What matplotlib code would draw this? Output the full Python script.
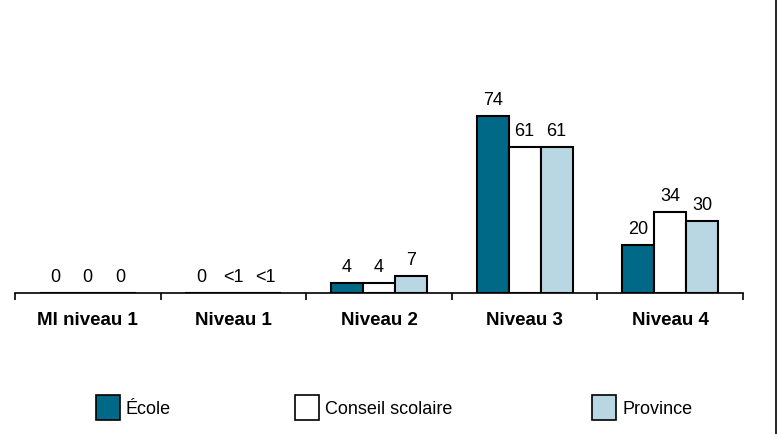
import matplotlib
matplotlib.use("Agg")
import matplotlib.pyplot as plt
import numpy as np
from matplotlib.patches import Rectangle
from matplotlib.lines import Line2D

plt.rcParams['font.family'] = ['Liberation Sans', 'DejaVu Sans']

categories = ["MI niveau 1", "Niveau 1", "Niveau 2", "Niveau 3", "Niveau 4"]
series = ["École", "Conseil scolaire", "Province"]
ecole = [0, 0, 4, 74, 20]
conseil = [0, 0, 4, 61, 34]
province = [0, 0, 7, 61, 30]
ecole_labels = ["0", "0", "4", "74", "20"]
conseil_labels = ["0", "<1", "4", "61", "34"]
province_labels = ["0", "<1", "7", "61", "30"]

colors = ["#006987", "#ffffff", "#b9d7e3"]
values = [ecole, conseil, province]
labels = [ecole_labels, conseil_labels, province_labels]

W, H = 778, 434
fig = plt.figure(figsize=(W / 100, H / 100), dpi=100)
ax = fig.add_axes([15 / W, 1 - 293 / H, (743 - 15) / W, (293 - 54) / H])

x = np.arange(len(categories))
bw = 0.22
for i in range(3):
    bars = ax.bar(x + (i - 1) * bw, values[i], bw, color=colors[i],
                  edgecolor="black", linewidth=1.5, zorder=3)
    ax.bar_label(bars, labels=labels[i], padding=5, fontsize=13)

ax.set_xlim(-0.5, len(categories) - 0.5)
ax.set_ylim(0, 100)
for s in ["top", "right", "left"]:
    ax.spines[s].set_visible(False)
ax.spines["bottom"].set_linewidth(1.2)
ax.spines["bottom"].set_zorder(4)
ax.set_yticks([])
ax.set_xticks(np.arange(len(categories) + 1) - 0.5)
ax.set_xticklabels([])
ax.tick_params(axis="x", which="major", length=5, width=1.2, direction="out")
ax.set_xticks(x, minor=True)
ax.set_xticklabels(categories, minor=True, fontsize=13.5, fontweight="bold")
ax.tick_params(axis="x", which="minor", length=0, pad=14)

# legend
leg_x = [96, 295, 592]
for i in range(3):
    fig.add_artist(Rectangle((leg_x[i] / W, 1 - 420 / H), 24 / W, 25 / H,
                             transform=fig.transFigure, facecolor=colors[i],
                             edgecolor="black", linewidth=1.2))
    fig.text((leg_x[i] + 30) / W, 1 - 409 / H, series[i], fontsize=13,
             va="center", ha="left")

fig.add_artist(Line2D([776 / W, 776 / W], [0, 1], transform=fig.transFigure,
                      color="black", linewidth=1.2))

fig.savefig("out.png", dpi=100)
